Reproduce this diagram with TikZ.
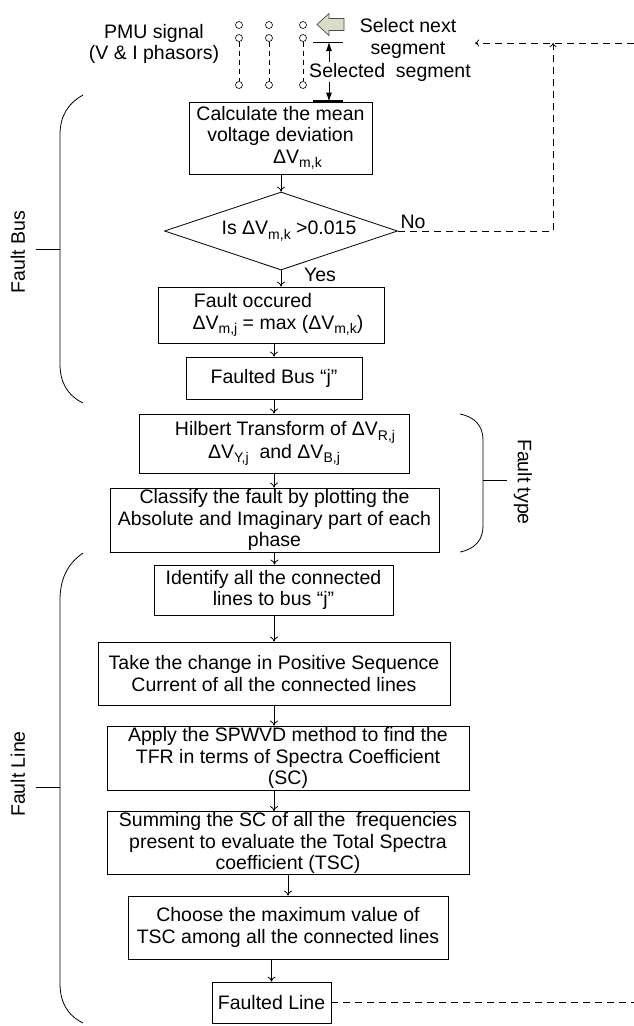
\documentclass[tikz,border=0pt]{standalone}
\usepackage{fontspec}
\setmainfont{Liberation Sans}
\usetikzlibrary{shapes.geometric,arrows.meta}

% lowered, smaller index text (e.g. the m,k of Delta V)
\newcommand{\lowidx}[1]{\raisebox{-0.45ex}{\fontsize{14}{14}\selectfont #1}}
\newcommand{\flowfont}{\fontsize{19.5}{21.5}\selectfont}
\definecolor{blockfill}{RGB}{216,221,200}

\begin{document}
\begin{tikzpicture}[x=1pt, y=-1pt, font=\flowfont, line width=0.8pt,
  stepbox/.style={draw, inner sep=0pt, align=center},
  decision/.style={draw, diamond, aspect=3, inner sep=0pt, align=center},
  arr/.style={-{To[length=5pt,width=8pt]}},
  dsh/.style={dash pattern=on 7pt off 5pt},
  dtip/.style={-{To[length=4pt,width=7pt]}},
  tap/.style={circle, draw, minimum size=7pt, inner sep=0pt, line width=0.6pt},
  tapline/.style={line width=0.6pt, dash pattern=on 5pt off 4pt},
  brace/.style={line width=0.8pt},
  sidelabel/.style={inner sep=0pt}]

\useasboundingbox (0,0) rectangle (634,1026);

% ---------- PMU input and segment selection ----------
\node[align=center, inner sep=0pt] (pmu) at (154,44) {PMU signal\\(V \& I phasors)};

\foreach \c/\x in {a/239, b/269, c/303} {
  \node[tap] (\c1) at (\x,25) {};
  \node[tap] (\c2) at (\x,38) {};
  \node[tap] (\c3) at (\x,85) {};
  \draw[tapline] (\c2) -- (\c3);
}

% block arrow: move on to the next window
\draw[fill=blockfill, draw=black!70, line width=0.7pt]
  (317,24.5) -- (329,13.5) -- (329,18.5) -- (344,18.5) -- (344,30.5)
  -- (329,30.5) -- (329,35.5) -- cycle;
\node[align=center, inner sep=0pt] (selnext) at (408,38.5) {Select next\\segment};

% ---------- Fault bus stage ----------
\node[stepbox, minimum width=183pt, minimum height=72pt] (calc) at (280.5,138)
  {Calculate the mean\\voltage deviation\\\hspace*{34pt}ΔV\lowidx{m,k}};

\coordinate (segtopL) at (313,42);
\coordinate (segtopR) at (343,42);
\coordinate (segtop) at (329,42);
\draw (segtopL) -- (segtopR);
\draw[line width=2.4pt] (calc.north -| segtopL) -- (calc.north -| segtopR);
\draw[{Latex[length=9pt,width=6pt]}-{Latex[length=9pt,width=6pt]}]
  (segtop) -- (segtop |- calc.north);
\node[fill=white, inner xsep=0pt, inner ysep=1pt] (selseg) at (390,72) {Selected\ \ segment};

\node[decision, minimum width=233pt, minimum height=78pt] (dia) at (281,231)
  {\hspace*{16pt}Is ΔV\lowidx{m,k} >0.015};

\node[stepbox, minimum width=226pt, minimum height=56pt] (fo) at (271,315)
  {Fault occured\hspace*{36pt}\\\hspace*{14pt}ΔV\lowidx{m,j} = max (ΔV\lowidx{m,k})};

\node[stepbox, minimum width=176pt, minimum height=42pt] (fbus) at (274,378)
  {Faulted Bus “j”};

% ---------- Fault type stage ----------
\node[stepbox, minimum width=270pt, minimum height=59pt] (hil) at (274,443.5)
  {\hspace*{22pt}Hilbert Transform of ΔV\lowidx{R,j}\\ΔV\lowidx{Y,j}\ \ and ΔV\lowidx{B,j}};

\node[stepbox, minimum width=329pt, minimum height=64pt] (cls) at (274.5,520)
  {Classify the fault by plotting the\\Absolute and Imaginary part of each\\phase};

% ---------- Fault line stage ----------
\node[stepbox, minimum width=239pt, minimum height=50pt] (idn) at (273.5,590)
  {Identify all the connected\\lines to bus “j”};

\node[stepbox, minimum width=352pt, minimum height=63pt] (take) at (274,673.5)
  {Take the change in Positive Sequence\\Current of all the connected lines};

\node[stepbox, minimum width=362pt, minimum height=64pt] (spw) at (288,758)
  {Apply the SPWVD method to find the\\TFR in terms of Spectra Coefficient\\(SC)};

\node[stepbox, minimum width=362pt, minimum height=63pt] (sum) at (288,843)
  {Summing the SC of all the\ \ frequencies\\present to evaluate the Total Spectra\\coefficient (TSC)};

\node[stepbox, minimum width=320pt, minimum height=63pt] (cho) at (288,927.5)
  {Choose the maximum value of\\TSC among all the connected lines};

\node[stepbox, minimum width=119pt, minimum height=41pt] (fl) at (271.5,1002.5)
  {Faulted Line};

% ---------- flow arrows ----------
\draw[arr] (calc.south -| dia.north) -- (dia.north);
\draw[arr] (dia.south) -- (dia.south |- fo.north);
\draw[arr] (fbus.north |- fo.south) -- (fbus.north);
\draw[arr] (fbus.south) -- (fbus.south |- hil.north);
\draw[arr] (hil.south) -- (hil.south |- cls.north);
\draw[arr] (cls.south) -- (cls.south |- idn.north);
\draw[arr] (idn.south -| take.north) -- (take.north);
\draw[arr] (take.south) -- (take.south |- spw.north);
\draw[arr] (spw.south -| take.south) -- (take.south |- sum.north);
\draw[arr] (sum.south) -- (sum.south |- cho.north);
\draw[arr] (fl.north |- cho.south) -- (fl.north);

\node[inner sep=0pt] (yes) at (320,275) {Yes};
\node[inner sep=0pt] (no) at (413,222) {No};

% ---------- feedback (dashed) ----------
\coordinate (noturn) at (553,231);
\coordinate (noup) at (553,43);
\coordinate (fbin) at (634,43);
\coordinate (fbend) at (475,43);
\coordinate (rightedge) at (634,0);
\draw[dsh, dtip] (dia.east) -- (noturn) -- (noup);
\draw[dsh, dtip] (fbin) -- (fbend);
\draw[dsh] (fl.east) -- (fl.east -| rightedge);

% ---------- stage braces ----------
\coordinate (fbT) at (83,95);
\coordinate (fbB) at (83,403);
\draw[brace] (fbT) .. controls (67,104) and (60,117) .. (60,135) -- (60,364)
  .. controls (60,382) and (67,395) .. (fbB);
\draw[brace] (36,249) -- (60,249);
\node[sidelabel, rotate=90] (lblbus) at (18,252) {Fault Bus};

\coordinate (ftT) at (460,414);
\coordinate (ftB) at (460,552);
\draw[brace] (ftT) .. controls (475,417) and (483,426) .. (483,440) -- (483,526)
  .. controls (483,540) and (475,549) .. (ftB);
\draw[brace] (483,480) -- (507,480);
\node[sidelabel, rotate=-90] (lbltype) at (523,482) {Fault type};

\coordinate (flT) at (83,553);
\coordinate (flB) at (83,1023);
\draw[brace] (flT) .. controls (67,564) and (60,580) .. (60,600) -- (60,983)
  .. controls (60,1002) and (67,1015) .. (flB);
\draw[brace] (36,787) -- (60,787);
\node[sidelabel, rotate=90] (lblline) at (18,774) {Fault Line};

\end{tikzpicture}
\end{document}
